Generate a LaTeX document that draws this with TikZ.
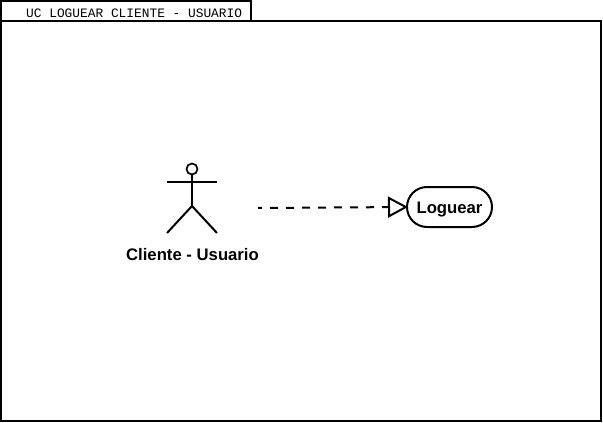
\documentclass[tikz,border=0pt]{standalone}
\usepackage{fontspec}
\setmainfont{Liberation Sans}
\newfontfamily\monof{Liberation Mono}
\usetikzlibrary{arrows.meta}
\tikzset{
  x=1pt,y=-1pt,
  frameline/.style={draw=black,line width=2pt,outer sep=0pt},
  stick/.style={draw=black,line width=2pt,outer sep=0pt},
  tablabel/.style={font=\monof\fontsize{12.85}{14}\selectfont,text=black,inner sep=0pt},
  boldlabel/.style={font=\bfseries\fontsize{16.7}{18}\selectfont,text=black,inner sep=0pt,text height=12pt,text depth=0pt},
  usecase/.style={frameline,rounded corners=20pt,minimum width=85pt,minimum height=40pt,inner sep=0pt,font=\bfseries\fontsize{16.7}{18}\selectfont,text height=12.6pt,text depth=0pt},
  realize/.style={draw=black,line width=2pt,dash pattern=on 8pt off 8pt,dash phase=4pt,shorten >=-1pt,
    -{Triangle[open,length=20pt,width=21pt,line width=2pt]}}
}
\begin{document}
\begin{tikzpicture}
\useasboundingbox (0,0) rectangle (603,423);
\fill[white] (0,0) rectangle (603,423);
\node[frameline,minimum width=600pt,minimum height=400pt,inner sep=0pt,anchor=north west] (frame) at (1,21) {};
\node[frameline,minimum width=250pt,minimum height=20pt,inner sep=0pt,anchor=north west] (tab) at (1,1) {};
\node[tablabel,anchor=west] (tabtext) at (26,13) {UC LOGUEAR CLIENTE - USUARIO};
\node[stick,circle,minimum size=11pt,inner sep=0pt,line width=1.7pt] (head) at (192,169) {};
\coordinate (hip) at (192,206);
\coordinate (lhand) at (167,182);
\coordinate (rhand) at (217,182);
\coordinate (lfoot) at (167,233);
\coordinate (rfoot) at (217,233);
\draw[stick] (head.south) -- (hip);
\draw[stick] (lhand) -- (rhand);
\draw[stick] (lfoot) -- (hip) -- (rfoot);
\node[boldlabel] (actorlabel) at (192.5,254) {Cliente - Usuario};
\node[usecase] (loguear) at (449.5,207) {Loguear};
\coordinate (actorend) at (258,208);
\draw[realize] (actorend) -- (loguear.west);
\end{tikzpicture}
\end{document}
